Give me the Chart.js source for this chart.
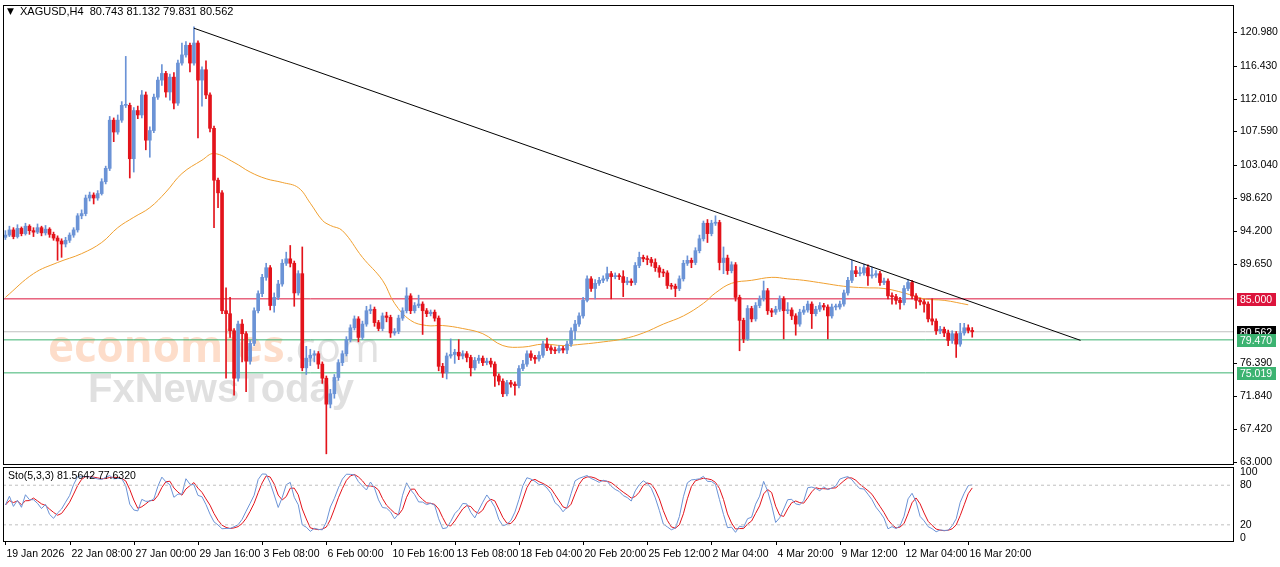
<!DOCTYPE html>
<html>
<head>
<meta charset="utf-8">
<script src="https://cdn.jsdelivr.net/npm/chart.js@4.4.1/dist/chart.umd.min.js"></script>
<style>
  body { margin: 0; background: #fff; width: 1280px; height: 567px; overflow: hidden; font-family: "Liberation Sans", sans-serif; }
  #mainBox { position: absolute; left: 0; top: 0; width: 1280px; height: 465px; }
  #stoBox { position: absolute; left: 0; top: 465px; width: 1280px; height: 102px; }
</style>
</head>
<body>
<div id="mainBox"><canvas id="mainChart"></canvas></div>
<div id="stoBox"><canvas id="stoChart"></canvas></div>
<script>
// XAGUSD H4 - candles (one per 4px)
const firstOpen = 93.3;
const closes = [
  93.6,94.3,93.4,94.5,93.8,94.8,94.2,94.0,94.6,93.9,94.4,93.7,93.2,92.8,92.4,92.9,93.6,94.3,96.2,96.5,98.6,99.0,98.6,99.2,100.8,102.6,109.1,107.5,109.1,111.1,111.1,103.9,110.4,109.8,112.5,106.4,107.7,112.2,114.5,115.4,112.9,114.9,111.4,116.8,117.9,119.2,116.8,119.5,114.5,115.9,112.5,108.0,101.0,99.3,83.4,83.0,80.7,74.3,81.6,80.3,76.6,79.0,83.4,85.7,87.9,89.2,84.1,85.2,87.0,89.8,90.4,89.8,85.8,88.4,75.7,77.0,77.4,77.6,76.2,74.3,70.8,72.2,
  74.4,76.4,77.6,79.5,81.1,82.3,79.8,81.6,83.4,83.6,81.8,81.0,82.7,82.5,80.4,80.6,82.4,83.4,85.4,83.4,84.1,84.3,83.4,83.0,83.2,82.4,75.9,75.0,77.3,77.5,77.8,77.3,77.6,77.1,75.7,76.7,77.0,76.4,76.6,76.2,74.6,73.9,72.2,73.7,73.5,73.3,75.6,76.2,77.6,77.1,76.9,77.4,78.9,78.4,78.1,78.0,78.3,78.1,78.9,80.7,81.6,82.7,84.8,87.7,86.4,87.1,87.5,87.7,88.4,88.0,88.1,88.0,87.2,87.4,87.2,89.5,90.6,90.4,90.3,89.9,
  89.2,88.6,88.5,86.8,86.7,86.4,87.7,89.8,90.2,89.9,91.5,93.1,95.2,93.8,95.2,95.3,89.9,90.5,88.8,89.6,85.2,82.1,79.6,83.7,82.3,84.1,85.0,86.1,83.4,83.2,83.6,85.0,83.4,83.5,82.7,81.6,83.2,83.5,84.3,83.0,83.6,84.1,83.9,82.7,83.9,83.9,84.3,85.8,87.5,88.8,88.4,88.5,89.2,88.1,88.2,88.4,87.2,87.4,85.4,85.3,84.8,84.5,86.4,87.2,85.4,84.8,84.6,84.3,82.3,82.0,80.7,80.9,80.4,79.4,80.3,78.9,80.4,81.1,80.743,80.562
];
const highs = [
  94.2,94.8,94.6,95.0,94.7,95.2,95.0,94.6,95.1,94.8,94.9,94.6,94.0,93.5,93.1,93.3,93.9,94.6,96.5,97.0,99.0,99.4,99.3,99.6,101.2,102.9,109.6,109.4,109.8,111.6,117.7,111.4,110.8,111.0,113.1,112.9,108.2,112.6,114.9,116.6,115.7,115.3,115.5,117.2,119.5,119.7,119.5,121.7,119.8,116.3,117.1,112.8,108.3,101.3,99.6,86.5,85.2,81.0,82.0,82.2,80.6,79.4,83.8,86.1,88.3,89.8,89.5,85.8,87.5,90.3,91.3,92.2,90.1,88.8,92.0,78.6,78.2,78.0,77.9,76.5,74.6,72.8,
  74.8,76.8,78.0,79.9,81.5,82.7,82.6,82.0,84.0,84.2,83.9,82.1,83.1,83.2,82.8,81.0,82.8,83.8,86.5,85.7,84.5,85.5,84.6,83.7,83.5,83.5,82.7,76.3,77.7,79.6,78.2,79.5,78.0,77.9,77.4,77.1,77.4,77.3,77.0,77.0,76.5,74.9,74.2,74.0,74.0,73.8,76.0,76.7,78.0,78.0,77.4,77.9,79.3,79.7,78.7,78.5,78.7,78.6,79.3,81.1,82.1,83.1,85.2,88.1,88.0,87.6,87.9,88.1,89.3,88.7,88.5,88.4,88.8,87.9,87.7,89.9,91.3,90.9,90.8,90.6,
  90.4,89.5,89.0,88.8,87.1,87.0,88.1,90.2,90.8,90.5,91.9,93.6,95.5,95.7,95.6,96.2,95.6,92.0,90.9,90.0,89.9,85.5,82.4,84.1,84.0,84.5,85.4,87.4,86.4,83.7,84.0,85.4,85.3,84.5,83.8,83.0,83.6,84.0,84.7,84.6,84.0,84.5,84.4,84.2,84.3,84.3,84.7,86.2,87.9,90.2,89.4,89.3,89.7,89.6,89.3,88.8,88.7,87.8,87.7,85.8,85.6,85.2,86.8,87.6,87.5,85.7,85.1,84.9,84.6,85.0,82.3,81.3,81.2,80.8,80.7,80.6,81.7,81.7,81.5,81.132
];
const lows = [
  93.0,93.4,93.1,93.2,93.5,93.6,93.7,93.4,93.8,93.5,93.6,93.3,92.9,90.2,90.6,92.0,92.6,93.3,94.0,95.8,96.2,98.2,97.8,98.3,99.0,100.5,102.3,106.2,107.2,108.8,110.8,101.3,102.1,109.3,109.4,105.1,104.1,107.4,111.9,113.8,112.2,111.8,110.6,111.1,116.5,117.6,115.6,116.5,106.7,111.0,112.0,107.5,94.6,97.3,83.0,74.3,79.8,72.0,73.9,76.5,72.5,76.2,78.7,83.1,85.3,87.5,83.5,83.2,84.9,86.7,89.5,89.3,84.0,85.5,75.3,74.8,76.0,76.5,75.6,73.6,64.1,70.3,
  71.6,74.0,76.0,77.3,79.2,80.8,79.2,79.5,81.3,83.0,81.3,80.7,80.7,81.9,79.8,80.1,80.3,82.1,83.1,83.0,83.1,83.8,80.2,82.6,82.7,82.0,75.3,74.4,74.2,77.0,76.3,76.8,76.9,76.5,74.6,75.4,76.3,76.0,76.1,75.8,73.2,73.4,71.8,71.9,73.1,72.0,73.0,75.3,75.9,76.7,76.3,76.6,77.1,78.0,77.6,77.6,77.7,77.7,77.6,78.6,79.5,81.3,82.4,84.6,86.0,85.0,86.8,87.2,87.4,85.0,87.7,87.6,85.3,86.9,86.8,86.9,89.2,90.0,89.6,89.4,
  88.7,87.9,88.0,86.4,86.3,85.3,86.1,87.4,89.5,89.2,89.6,91.2,92.8,92.6,93.5,94.9,88.9,88.4,88.3,88.5,84.7,78.0,79.1,79.4,81.9,82.0,83.8,84.7,82.9,82.6,82.9,83.3,79.6,83.0,82.2,80.1,81.3,82.9,83.2,81.0,82.7,83.3,83.5,79.6,82.4,83.5,83.6,84.0,85.5,87.2,88.0,88.1,88.2,86.8,87.8,87.9,86.8,86.9,85.0,84.3,84.3,83.6,84.2,86.1,85.0,83.7,84.2,83.2,81.9,81.5,80.2,80.3,79.9,78.7,79.0,77.1,78.6,80.1,80.4,79.831
];

// moving average (orange), sampled along the line: candle index / value
const maIndex = [0,7,13,19,24,28,32,36,40,44,49,52,57,61,65,69,73,76,79,81,84,89,94,97,101,105,109,114,119,124,129,134,139,144,149,154,159,164,169,174,177,181,186,191,195,199,204,209,214,219,224,229,234,240];
const maValues = [85.2,88.4,89.9,91.1,92.6,94.6,96.0,97.3,99.4,101.9,103.7,104.6,103.4,102.1,101.2,100.7,100.0,97.9,95.6,94.9,94.2,90.6,87.5,84.4,82.1,81.4,81.4,81.0,80.3,78.7,78.5,78.9,78.7,78.9,79.2,79.6,80.4,81.6,82.7,84.4,85.8,87.1,87.5,87.9,87.7,87.5,87.1,86.7,86.5,86.4,85.8,85.0,84.8,84.2];

// trend line (candle index, price)
const trendIndex = [47, 268];
const trendValues = [121.5, 79.4];

// horizontal levels
const levelValues = [85.000, 80.562, 79.470, 75.019];
const levelLabels = ['85.000', '80.562', '79.470', '75.019'];
const levelColors = ['#dc143c', '#c0c0c0', '#3cb371', '#3cb371'];
const levelBoxColors = ['#dc143c', '#000000', '#3cb371', '#3cb371'];

const priceTicks = [120.980, 116.430, 112.010, 107.590, 103.040, 98.620, 94.200, 89.650, 76.390, 71.840, 67.420, 63.000];
const timeIndex = [0,16,32,48,64,80,96,112,128,144,160,176,192,208,224,240];
const timeLabels = ['19 Jan 2026','22 Jan 08:00','27 Jan 00:00','29 Jan 16:00','3 Feb 08:00','6 Feb 00:00','10 Feb 16:00','13 Feb 08:00','18 Feb 04:00','20 Feb 20:00','25 Feb 12:00','2 Mar 04:00','4 Mar 20:00','9 Mar 12:00','12 Mar 04:00','16 Mar 20:00'];

const upColor = '#6b93d6';
const downColor = '#e3131b';
const axisFont = '10.5px "Liberation Sans", Arial, sans-serif';

const opens = closes.map((c, i) => i === 0 ? firstOpen : closes[i - 1]);
const candleColors = closes.map((c, i) => c >= opens[i] ? upColor : downColor);

// Stochastic 5,3,3 from the candles
function stochastic(kLen, slow, dLen) {
    const num = [], den = [];
    closes.forEach((c, i) => {
        const from = Math.max(0, i - kLen + 1);
        const hh = Math.max(...highs.slice(from, i + 1));
        const ll = Math.min(...lows.slice(from, i + 1));
        num.push(c - ll);
        den.push(hh - ll);
    });
    const k = num.map((n, i) => {
        const from = Math.max(0, i - slow + 1);
        const sn = num.slice(from, i + 1).reduce((a, b) => a + b, 0);
        const sd = den.slice(from, i + 1).reduce((a, b) => a + b, 0);
        return sd === 0 ? 50 : sn / sd * 100;
    });
    const d = k.map((v, i) => {
        const part = k.slice(Math.max(0, i - dLen + 1), i + 1);
        return part.reduce((a, b) => a + b, 0) / part.length;
    });
    return { k, d };
}
const sto = stochastic(5, 3, 3);

const X_MIN = -0.6, X_MAX = 306;

// frame around the plot area
const framePlugin = {
    id: 'frame',
    afterDraw(chart) {
        const { ctx, chartArea: a } = chart;
        ctx.save();
        ctx.strokeStyle = '#000';
        ctx.lineWidth = 1;
        ctx.strokeRect(a.left + 0.5, a.top + 0.5, a.right - a.left, a.bottom - a.top);
        ctx.restore();
    }
};

// price axis, level boxes, header and watermark
const mainDecor = {
    id: 'mainDecor',
    beforeDatasetsDraw(chart) {
        const { ctx } = chart;
        ctx.save();
        ctx.font = 'bold 44px "Open Sans", "DejaVu Sans", sans-serif';
        ctx.fillStyle = 'rgba(250, 165, 115, 0.38)';
        ctx.fillText('economies', 48, 362);
        const w = ctx.measureText('economies').width;
        ctx.fillStyle = 'rgba(170, 170, 170, 0.35)';
        ctx.font = '42px "Open Sans", "DejaVu Sans", sans-serif';
        ctx.fillText('.com', 48 + w, 362);
        ctx.font = 'bold 40px "Liberation Sans", sans-serif';
        ctx.fillStyle = 'rgba(160, 160, 160, 0.33)';
        ctx.fillText('FxNewsToday', 88, 402);
        ctx.restore();
    },
    afterDraw(chart) {
        const { ctx, chartArea: a, scales } = chart;
        const y = scales.y;
        ctx.save();
        ctx.font = axisFont;
        ctx.textBaseline = 'middle';
        priceTicks.forEach(v => {
            const py = Math.round(y.getPixelForValue(v)) + 0.5;
            ctx.strokeStyle = '#000';
            ctx.beginPath();
            ctx.moveTo(a.right, py);
            ctx.lineTo(a.right + 4, py);
            ctx.stroke();
            ctx.fillStyle = '#000';
            ctx.fillText(v.toFixed(3), a.right + 7, py);
        });
        levelValues.forEach((v, i) => {
            const py = Math.round(y.getPixelForValue(v));
            ctx.fillStyle = levelBoxColors[i];
            ctx.fillRect(a.right + 4, py - 6, 39, 13);
            ctx.fillStyle = '#fff';
            ctx.fillText(levelLabels[i], a.right + 7, py + 1);
        });
        ctx.fillStyle = '#000';
        ctx.font = '9px "DejaVu Sans", sans-serif';
        ctx.fillText('\u25BC', 7, 12);
        ctx.font = '11px "Liberation Sans", Arial, sans-serif';
        ctx.fillText('XAGUSD,H4  80.743 81.132 79.831 80.562', 20, 12);
        ctx.restore();
    }
};

const levelDatasets = levelValues.map((v, i) => ({
    type: 'line',
    data: [{ x: X_MIN, y: v }, { x: X_MAX, y: v }],
    borderColor: levelColors[i],
    borderWidth: 1,
    pointRadius: 0,
    order: 5
}));

new Chart(document.getElementById('mainChart'), {
    type: 'bar',
    data: {
        datasets: [
            ...levelDatasets,
            {
                type: 'line',
                data: maIndex.map((x, i) => ({ x, y: maValues[i] })),
                borderColor: '#f0a030',
                borderWidth: 1,
                pointRadius: 0,
                tension: 0.4,
                order: 4
            },
            {
                // wicks
                data: closes.map((c, i) => ({ x: i, y: [lows[i], highs[i]] })),
                backgroundColor: candleColors,
                barThickness: 1,
                order: 3
            },
            {
                // bodies
                data: closes.map((c, i) => ({ x: i, y: [opens[i], c] })),
                backgroundColor: candleColors,
                barThickness: 3,
                minBarLength: 1,
                order: 2
            },
            {
                type: 'line',
                data: trendIndex.map((x, i) => ({ x, y: trendValues[i] })),
                borderColor: '#000',
                borderWidth: 1,
                pointRadius: 0,
                order: 1
            }
        ]
    },
    options: {
        responsive: true,
        maintainAspectRatio: false,
        animation: false,
        layout: { padding: { left: 3, right: 47, top: 5, bottom: 1 } },
        plugins: { legend: { display: false }, tooltip: { enabled: false } },
        datasets: { bar: { grouped: false } },
        scales: {
            x: { type: 'linear', min: X_MIN, max: X_MAX, display: false, offset: false },
            y: { min: 62.73, max: 124.63, display: false }
        }
    },
    plugins: [mainDecor, framePlugin]
});

// stochastic pane + time axis
const stoDecor = {
    id: 'stoDecor',
    afterDraw(chart) {
        const { ctx, chartArea: a, scales } = chart;
        ctx.save();
        ctx.font = axisFont;
        ctx.fillStyle = '#000';
        ctx.textBaseline = 'middle';
        [[100, '100'], [80, '80'], [20, '20'], [0, '0']].forEach(([v, t]) => {
            const py = scales.y.getPixelForValue(v);
            ctx.fillText(t, a.right + 7, py);
        });
        ctx.fillText('Sto(5,3,3) 81.5642 77.6320', 8, a.top + 9);
        ctx.textBaseline = 'alphabetic';
        timeIndex.forEach((idx, i) => {
            const px = Math.round(scales.x.getPixelForValue(idx)) + 0.5;
            ctx.strokeStyle = '#000';
            ctx.beginPath();
            ctx.moveTo(px, a.bottom);
            ctx.lineTo(px, a.bottom + 4);
            ctx.stroke();
            ctx.fillText(timeLabels[i], px + 1, a.bottom + 16);
        });
        ctx.restore();
    }
};

new Chart(document.getElementById('stoChart'), {
    type: 'line',
    data: {
        datasets: [
            { data: [{ x: X_MIN, y: 80 }, { x: X_MAX, y: 80 }], borderColor: '#c0c0c0', borderWidth: 1, borderDash: [3, 3], pointRadius: 0 },
            { data: [{ x: X_MIN, y: 20 }, { x: X_MAX, y: 20 }], borderColor: '#c0c0c0', borderWidth: 1, borderDash: [3, 3], pointRadius: 0 },
            { data: sto.k.map((v, i) => ({ x: i, y: v })), borderColor: '#6b93d6', borderWidth: 1, pointRadius: 0 },
            { data: sto.d.map((v, i) => ({ x: i, y: v })), borderColor: '#e3131b', borderWidth: 1, pointRadius: 0 }
        ]
    },
    options: {
        responsive: true,
        maintainAspectRatio: false,
        animation: false,
        layout: { padding: { left: 3, right: 47, top: 2, bottom: 26 } },
        plugins: { legend: { display: false }, tooltip: { enabled: false } },
        scales: {
            x: { type: 'linear', min: X_MIN, max: X_MAX, display: false },
            y: { min: -4.5, max: 107.6, display: false }
        }
    },
    plugins: [stoDecor, framePlugin]
});
</script>
</body>
</html>
